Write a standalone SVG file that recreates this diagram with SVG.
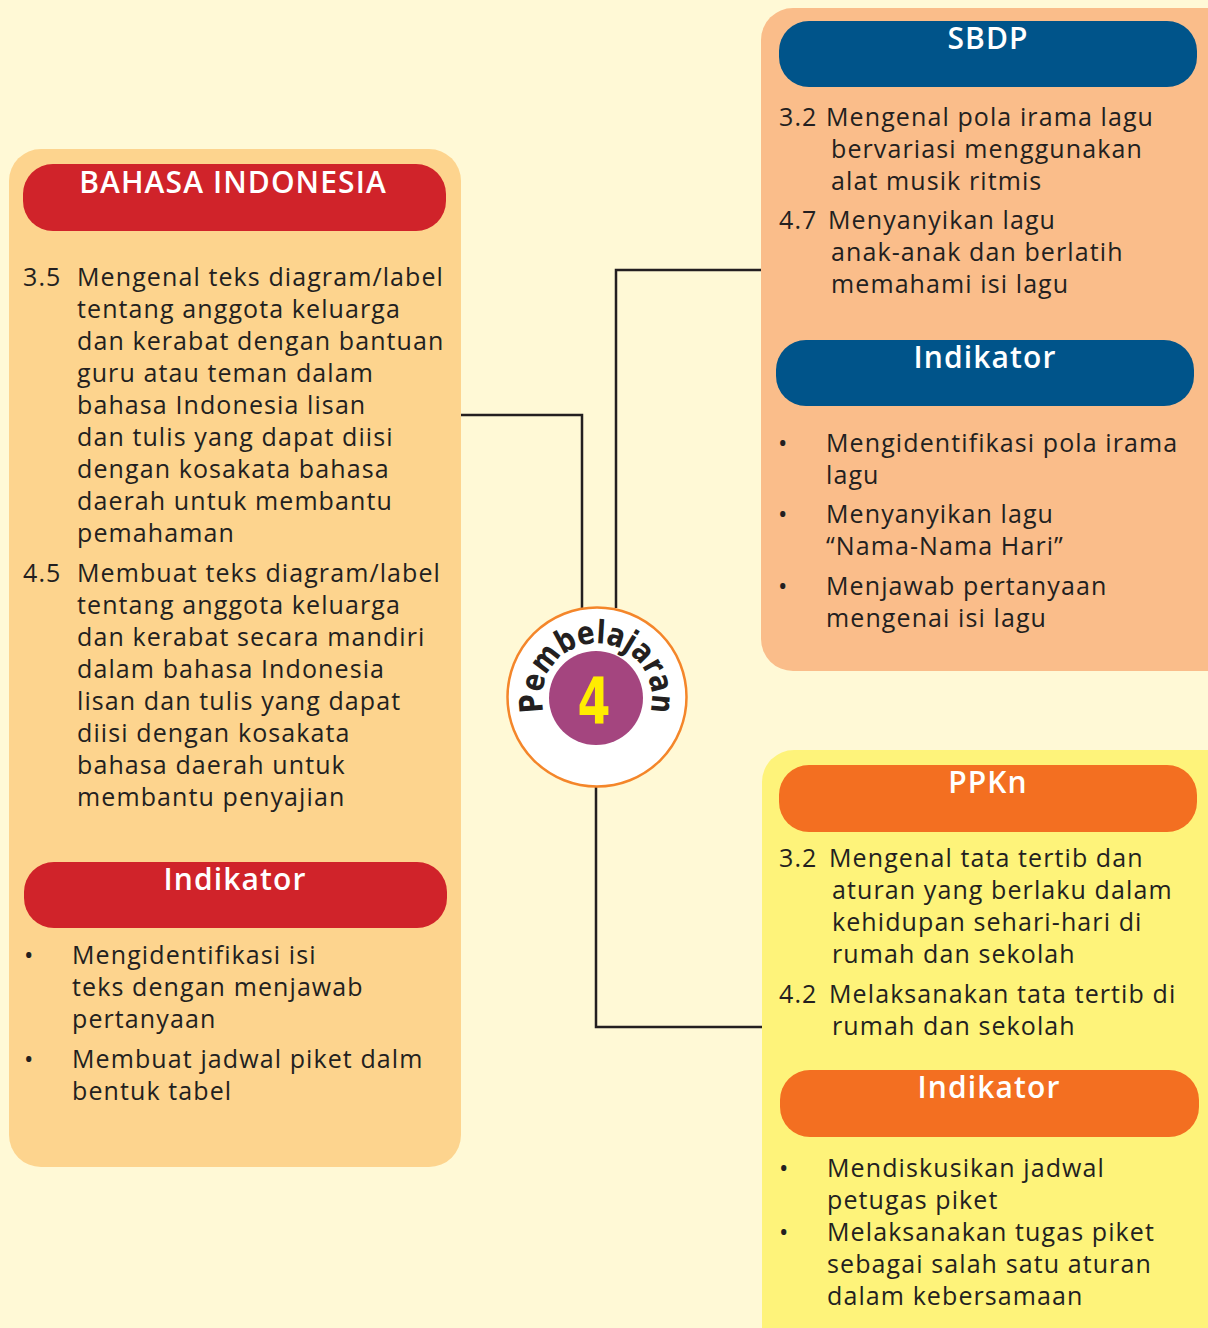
<svg xmlns="http://www.w3.org/2000/svg" width="1208" height="1328" viewBox="0 0 1208 1328">
<defs>
<style>
.t{font-family:"Open Sans","Noto Sans",sans-serif;font-size:25px;letter-spacing:1.1px;fill:#231F20;}
.h{font-family:"Open Sans","Noto Sans",sans-serif;font-size:30px;font-weight:600;letter-spacing:1.1px;fill:#FFFFFF;text-anchor:middle;}
.conn{fill:none;stroke:#231F20;stroke-width:2.5;}
</style>
<path id="arc" d="M 542.8 707.6 A 55 55 0 1 1 651.2 707.6"/>
</defs>
<rect width="1208" height="1328" fill="#FFF9D6"/>

<g id="connectors">
<polyline class="conn" points="461,415 582,415 582,612"/>
<polyline class="conn" points="616,608 616,270 762,270"/>
<polyline class="conn" points="596,786 596,1027 763,1027"/>
</g>

<g id="bahasa-indonesia">
<rect x="9" y="149" width="452" height="1018" rx="32" fill="#FDD48E"/>
<rect x="23" y="164" width="423" height="67" rx="30" fill="#D0232A"/>
<text class="h" x="233" y="193">BAHASA INDONESIA</text>
<text class="t" x="23" y="286">3.5</text>
<text class="t" y="286"><tspan x="77">Mengenal teks diagram/label</tspan><tspan x="77" dy="32">tentang anggota keluarga</tspan><tspan x="77" dy="32">dan kerabat dengan bantuan</tspan><tspan x="77" dy="32">guru atau teman dalam</tspan><tspan x="77" dy="32">bahasa Indonesia lisan</tspan><tspan x="77" dy="32">dan tulis yang dapat diisi</tspan><tspan x="77" dy="32">dengan kosakata bahasa</tspan><tspan x="77" dy="32">daerah untuk membantu</tspan><tspan x="77" dy="32">pemahaman</tspan></text>
<text class="t" x="23" y="582">4.5</text>
<text class="t" y="582"><tspan x="77">Membuat teks diagram/label</tspan><tspan x="77" dy="32">tentang anggota keluarga</tspan><tspan x="77" dy="32">dan kerabat secara mandiri</tspan><tspan x="77" dy="32">dalam bahasa Indonesia</tspan><tspan x="77" dy="32">lisan dan tulis yang dapat</tspan><tspan x="77" dy="32">diisi dengan kosakata</tspan><tspan x="77" dy="32">bahasa daerah untuk</tspan><tspan x="77" dy="32">membantu penyajian</tspan></text>
<rect x="24" y="862" width="423" height="66" rx="30" fill="#D0232A"/>
<text class="h" x="235" y="890">Indikator</text>
<text class="t" x="24" y="964">•</text>
<text class="t" y="964"><tspan x="72">Mengidentifikasi isi</tspan><tspan x="72" dy="32">teks dengan menjawab</tspan><tspan x="72" dy="32">pertanyaan</tspan></text>
<text class="t" x="24" y="1068">•</text>
<text class="t" y="1068"><tspan x="72">Membuat jadwal piket dalm</tspan><tspan x="72" dy="32">bentuk tabel</tspan></text>
</g>

<g id="sbdp">
<rect x="761" y="8" width="480" height="663" rx="32" fill="#FABD8A"/>
<rect x="779" y="21" width="418" height="66" rx="30" fill="#00548A"/>
<text class="h" x="988" y="49">SBDP</text>
<text class="t" x="779" y="126">3.2</text>
<text class="t" y="126"><tspan x="826">Mengenal pola irama lagu</tspan><tspan x="831" dy="32">bervariasi menggunakan</tspan><tspan x="831" dy="32">alat musik ritmis</tspan></text>
<text class="t" x="779" y="229">4.7</text>
<text class="t" y="229"><tspan x="828">Menyanyikan lagu</tspan><tspan x="831" dy="32">anak-anak dan berlatih</tspan><tspan x="831" dy="32">memahami isi lagu</tspan></text>
<rect x="776" y="340" width="418" height="66" rx="30" fill="#00548A"/>
<text class="h" x="985" y="368">Indikator</text>
<text class="t" x="778" y="452">•</text>
<text class="t" y="452"><tspan x="826">Mengidentifikasi pola irama</tspan><tspan x="826" dy="32">lagu</tspan></text>
<text class="t" x="778" y="523">•</text>
<text class="t" y="523"><tspan x="826">Menyanyikan lagu</tspan><tspan x="826" dy="32">“Nama-Nama Hari”</tspan></text>
<text class="t" x="778" y="595">•</text>
<text class="t" y="595"><tspan x="826">Menjawab pertanyaan</tspan><tspan x="826" dy="32">mengenai isi lagu</tspan></text>
</g>

<g id="ppkn">
<rect x="762" y="750" width="480" height="620" rx="32" fill="#FEF37A"/>
<rect x="779" y="765" width="418" height="67" rx="30" fill="#F36F21"/>
<text class="h" x="988" y="793">PPKn</text>
<text class="t" x="779" y="867">3.2</text>
<text class="t" y="867"><tspan x="829">Mengenal tata tertib dan</tspan><tspan x="832" dy="32">aturan yang berlaku dalam</tspan><tspan x="832" dy="32">kehidupan sehari-hari di</tspan><tspan x="832" dy="32">rumah dan sekolah</tspan></text>
<text class="t" x="779" y="1003">4.2</text>
<text class="t" y="1003"><tspan x="829">Melaksanakan tata tertib di</tspan><tspan x="832" dy="32">rumah dan sekolah</tspan></text>
<rect x="780" y="1070" width="419" height="67" rx="30" fill="#F36F21"/>
<text class="h" x="989" y="1098">Indikator</text>
<text class="t" x="779" y="1177">•</text>
<text class="t" x="779" y="1241">•</text>
<text class="t" y="1177"><tspan x="827">Mendiskusikan jadwal</tspan><tspan x="827" dy="32">petugas piket</tspan><tspan x="827" dy="32">Melaksanakan tugas piket</tspan><tspan x="827" dy="32">sebagai salah satu aturan</tspan><tspan x="827" dy="32">dalam kebersamaan</tspan></text>
</g>

<g id="pembelajaran-4">
<circle cx="597" cy="697" r="89.5" fill="#FFFFFF" stroke="#F4862A" stroke-width="2.5"/>
<circle cx="596" cy="698" r="47" fill="#A4457F"/>
<text x="594" y="724" font-family="'DejaVu Sans',sans-serif" font-size="64" font-weight="bold" fill="#FFED00" text-anchor="middle" textLength="33" lengthAdjust="spacingAndGlyphs">4</text>
<text font-family="'DejaVu Sans',sans-serif" font-size="32" font-weight="bold" fill="#231F20"><textPath href="#arc" startOffset="50%" text-anchor="middle" textLength="200" lengthAdjust="spacingAndGlyphs">Pembelajaran</textPath></text>
</g>
</svg>
